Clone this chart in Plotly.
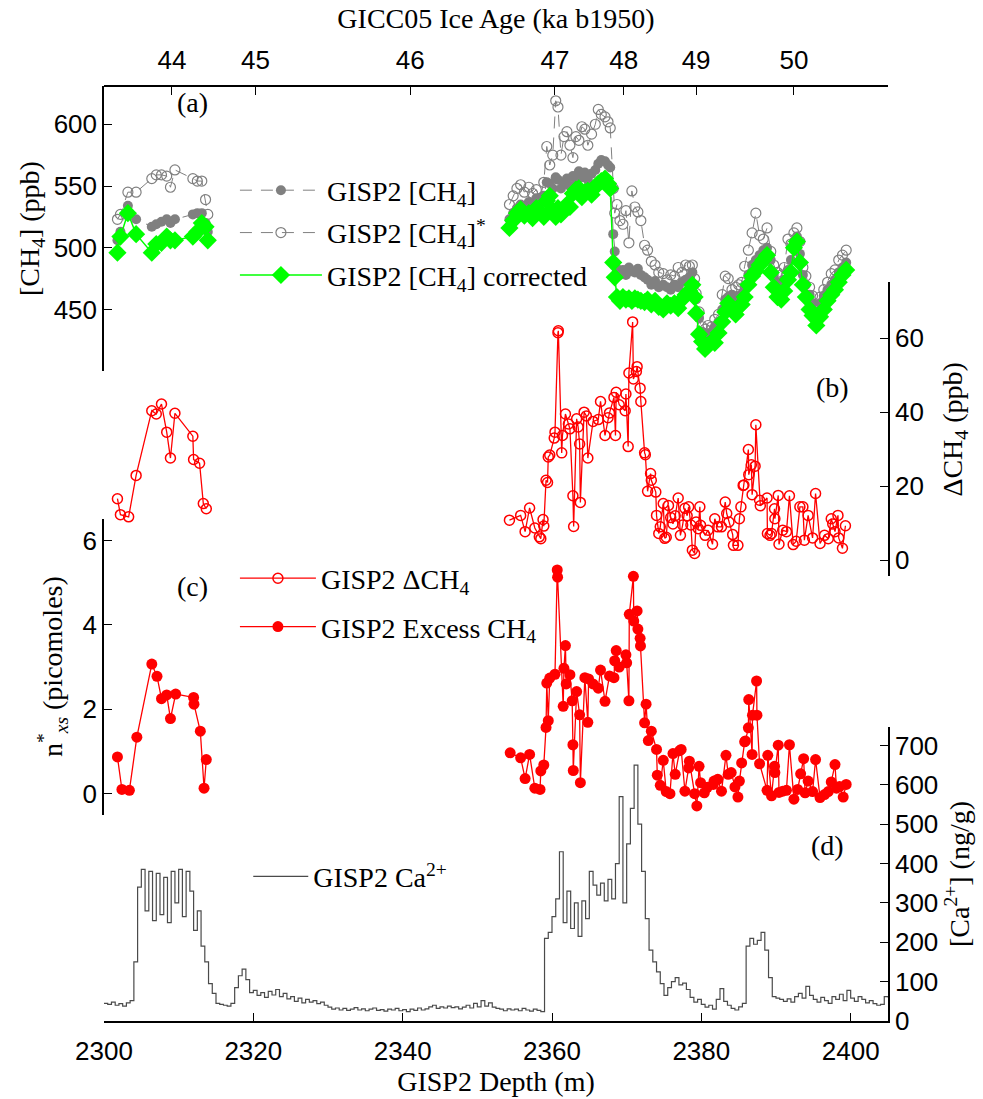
import numpy as np
import plotly.graph_objects as go

SERIF = "Liberation Serif"
SANS = "Liberation Sans"

# ---------------- Panel (a): [CH4] (ppb) ----------------
a_depth_left = [2301.8, 2302.2, 2303.2, 2304.3, 2306.4, 2307.0, 2307.7, 2308.4, 2308.9, 2309.5,
                2311.9, 2312.5, 2313.1, 2313.6, 2313.9]
ch4_left = [506, 513, 534, 523, 517, 519, 521, 523, 520, 523, 527, 528, 528, 520, 513]
ch4_star_left = [523, 527, 545, 545, 556, 559, 559, 558, 549, 563, 556, 554, 554, 539, 527]
ch4_corr_left = [496, 509, 528, 511, 496, 503, 504, 509, 506, 506, 509, 513, 520, 517, 506]

a_depth_right = [
    2354.3, 2354.8, 2355.3, 2355.8, 2356.3, 2356.9, 2357.4, 2357.9, 2358.4, 2358.9,
    2359.3, 2359.7, 2360.1, 2360.5, 2360.8, 2361.2, 2361.6, 2362.0, 2362.4, 2362.8,
    2363.2, 2363.6, 2364.0, 2364.4, 2364.8, 2365.3, 2365.8, 2366.2, 2366.6, 2367.1,
    2367.5, 2367.8, 2368.2, 2368.4, 2368.7, 2369.1, 2369.5, 2369.9, 2370.3, 2370.7,
    2371.1, 2371.5, 2371.9, 2372.4, 2372.8, 2373.3, 2373.8, 2374.3, 2374.9, 2375.4,
    2375.9, 2376.4, 2376.9, 2377.4, 2377.9, 2378.4, 2378.8, 2379.1, 2379.3, 2379.7,
    2380.1, 2380.5, 2380.9, 2381.4, 2381.8, 2382.3, 2382.8, 2383.2, 2383.6, 2384.1,
    2384.6, 2385.0, 2385.4, 2385.8, 2386.3, 2386.8, 2387.3, 2387.8, 2388.3, 2388.8,
    2389.3, 2389.7, 2390.2, 2390.7, 2391.1, 2391.6, 2392.0, 2392.4, 2392.8, 2393.2,
    2393.6, 2394.0, 2394.5, 2394.9, 2395.4, 2395.9, 2396.4, 2396.9, 2397.4, 2397.9,
    2398.4, 2398.9, 2399.4]
ch4_right = [
    523, 528, 532, 535, 533, 537, 535, 540, 536, 542,
    553, 552, 548, 557, 555, 548, 552, 556, 550, 558,
    556, 562, 557, 561, 555, 560, 563, 568, 571, 570,
    567, 565, 511, 497, 483, 478, 482, 478, 484, 481,
    480, 483, 478, 476, 474, 470, 473, 468, 470, 468,
    466, 470, 468, 472, 474, 476, 480, 470, 458, 443,
    432, 426, 430, 432, 436, 440, 450, 458, 460, 462,
    458, 460, 462, 466, 478, 486, 490, 494, 498, 500,
    490, 478, 472, 468, 474, 482, 490, 505, 509, 495,
    478, 470, 462, 455, 448, 455, 461, 466, 470, 474,
    480, 484, 488]
ch4_star_right = [
    535, 542, 548, 551, 545, 549, 544, 547, 540, 553,
    582, 567, 575, 619, 614, 575, 590, 594, 583, 573,
    590, 587, 598, 596, 583, 592, 600, 612, 608, 606,
    602, 597, 548, 528, 535, 522, 519, 530, 504, 546,
    533, 529, 522, 502, 498, 489, 486, 480, 479, 474,
    478, 477, 484, 480, 486, 485, 486, 475, 463, 448,
    436, 434, 437, 436, 442, 446, 462, 477, 475, 466,
    468, 470, 472, 485, 498, 512, 528, 510, 507, 516,
    497, 486, 480, 478, 484, 507, 503, 512, 516, 505,
    484, 477, 468, 461, 453, 460, 466, 472, 479, 482,
    490, 494, 498]
ch4_corr_right = [
    516, 522, 528, 531, 526, 528, 524, 532, 529, 525,
    538, 542, 530, 525, 532, 527, 531, 535, 533, 544,
    547, 548, 541, 545, 546, 543, 549, 552, 554, 556,
    552, 548, 488, 476, 460, 457, 460, 458, 459, 457,
    459, 458, 457, 456, 458, 454, 457, 452, 450, 455,
    453, 455, 451, 458, 462, 465, 470, 460, 447, 430,
    424, 418, 421, 424, 423, 431, 440, 448, 455, 450,
    446, 452, 454, 460, 470, 477, 481, 486, 490, 494,
    480, 468, 460, 458, 465, 474, 480, 500, 505, 488,
    470, 460, 450, 445, 437, 444, 450, 457, 462, 466,
    472, 478, 482]

# ---------------- Panel (b): Delta CH4 (ppb) ----------------
b_depth = [
    2301.8, 2302.2, 2303.3, 2304.3, 2306.4, 2307.0, 2307.7, 2308.4, 2308.9, 2309.5,
    2311.9, 2312.0, 2312.8, 2313.3, 2313.7,
    2334.0,
    2354.3, 2355.8, 2356.4, 2357.0, 2357.7, 2358.3, 2358.5, 2358.8, 2358.9, 2359.2,
    2359.4, 2359.5, 2359.7, 2360.3, 2360.4, 2360.8, 2360.85, 2361.3, 2361.4, 2361.8,
    2362.2, 2362.4, 2362.8, 2362.9, 2363.3, 2363.5, 2363.7, 2363.8, 2364.3, 2364.6,
    2364.8, 2365.5, 2366.2, 2366.5, 2367.1, 2367.5, 2367.7, 2368.3, 2368.5, 2368.6,
    2369.0, 2369.8, 2369.9, 2370.2, 2370.3, 2370.8, 2370.9, 2371.3, 2371.4, 2371.8,
    2371.9, 2372.4, 2372.5, 2372.8, 2373.2, 2373.3, 2373.9, 2374.0, 2374.3, 2374.5,
    2374.9, 2375.1, 2375.3, 2375.6, 2375.9, 2376.2, 2376.5, 2376.9, 2377.2, 2377.5,
    2377.8, 2378.1, 2378.3, 2378.6, 2378.8, 2379.1, 2379.3, 2379.6, 2379.8, 2379.9,
    2380.5, 2380.9, 2381.5, 2381.8, 2382.2, 2382.7, 2383.2, 2383.4, 2383.7, 2384.2,
    2384.3, 2384.9, 2385.1, 2385.3, 2385.6, 2385.7, 2386.3, 2386.35, 2386.7, 2386.8,
    2387.2, 2387.3, 2387.8, 2387.9, 2388.8, 2388.85, 2389.2, 2389.4, 2389.8, 2389.85,
    2390.3, 2390.4, 2390.9, 2391.4, 2391.8, 2392.3, 2392.7, 2393.2, 2393.6, 2393.8,
    2394.3, 2394.9, 2395.3, 2395.9, 2396.5, 2397.0, 2397.4, 2397.6, 2397.9, 2398.3,
    2398.4, 2398.9, 2399.3]
delta_ch4 = [
    16.6, 12.3, 11.7, 22.9, 40.4, 39.5, 42.2, 34.6, 27.6, 39.7,
    33.5, 27.2, 26.2, 15.3, 13.9,
    None,
    10.8, 12.1, 7.7, 14.1, 8.7, 6.3, 5.8, 11.0, 9.2, 21.6,
    21.0, 27.9, 28.4, 33.0, 34.6, 61.5, 62.0, 29.0, 33.7, 39.5,
    36.8, 35.5, 17.4, 9.1, 38.2, 36.0, 31.4, 15.6, 40.0, 39.0,
    27.6, 37.5, 38.0, 42.9, 33.7, 38.5, 39.8, 44.0, 33.7, 45.4,
    42.0, 40.4, 44.9, 30.7, 50.6, 64.4, 49.0, 51.0, 52.3, 46.5,
    42.9, 29.0, 28.5, 18.6, 23.4, 21.6, 18.4, 12.1, 7.2, 9.0,
    15.3, 5.9, 6.2, 14.8, 11.5, 9.8, 12.0, 16.8, 6.7, 9.5,
    14.0, 12.0, 14.4, 9.5, 2.7, 1.8, 10.3, 8.5, 14.4, 9.4,
    6.7, 8.1, 4.3, 11.2, 9.0, 9.0, 15.7, 12.6, 10.3, 6.9,
    4.0, 4.0, 11.2, 14.4, 20.2, 20.3, 29.9, 23.1, 25.8, 17.7,
    25.4, 36.6, 16.2, 14.7, 16.8, 7.2, 6.7, 7.2, 13.9, 11.2,
    17.5, 4.3, 8.1, 7.7, 17.4, 4.2, 5.1, 14.4, 14.4, 5.4,
    12.1, 6.0, 18.0, 4.5, 6.7, 5.8, 11.2, 9.8, 7.7, 12.1,
    6.0, 3.2, 9.3]

# ---------------- Panel (c): excess CH4 n*xs (picomoles) ----------------
c_depth = [
    2301.8, 2302.4, 2303.4, 2304.4, 2306.4, 2307.1, 2307.7, 2308.4, 2308.9, 2309.6,
    2312.0, 2312.05, 2312.9, 2313.4, 2313.7,
    2334.0,
    2354.4, 2355.8, 2356.4, 2357.0, 2357.7, 2358.4, 2358.5, 2358.9, 2359.2, 2359.3,
    2359.5, 2359.7, 2360.4, 2360.7, 2360.75, 2361.5, 2361.6, 2361.8, 2361.9, 2362.4,
    2362.7, 2362.8, 2362.85, 2363.3, 2363.7, 2363.8, 2364.4, 2364.8, 2364.9, 2365.5,
    2366.2, 2366.5, 2367.1, 2367.7, 2368.3, 2368.4, 2368.6, 2369.0, 2369.9, 2370.0,
    2370.3, 2370.35, 2370.9, 2370.95, 2371.4, 2371.5, 2371.8, 2371.85, 2372.4, 2372.6,
    2372.9, 2373.3, 2374.0, 2374.1, 2374.5, 2374.9, 2375.3, 2375.8, 2376.2, 2376.5,
    2377.1, 2377.3, 2377.8, 2378.3, 2378.4, 2379.1, 2379.4, 2379.7, 2379.9, 2380.4,
    2380.8, 2381.6, 2381.7, 2382.2, 2382.7, 2383.3, 2383.6, 2384.0, 2384.5, 2384.9,
    2385.1, 2385.4, 2385.8, 2385.9, 2386.3, 2386.35, 2386.8, 2386.85, 2387.4, 2387.45,
    2387.8, 2388.8, 2388.9, 2389.4, 2389.8, 2389.85, 2390.3, 2390.4, 2390.9, 2391.4,
    2391.8, 2392.4, 2392.9, 2393.3, 2393.7, 2393.9, 2394.3, 2394.9, 2395.3, 2395.9,
    2396.5, 2397.0, 2397.4, 2397.9, 2398.1, 2398.5, 2399.0, 2399.4]
n_xs = [
    0.87, 0.10, 0.08, 1.34, 3.07, 2.78, 2.25, 2.34, 1.78, 2.36,
    2.28, 2.12, 1.48, 0.13, 0.81,
    None,
    0.97, 0.85, 0.36, 0.93, 0.13, 0.10, 0.54, 0.68, 1.57, 2.62,
    1.73, 2.74, 2.83, 5.30, 5.13, 2.07, 2.97, 3.51, 2.60, 2.82,
    2.20, 1.16, 0.55, 2.42, 1.87, 0.26, 2.75, 1.69, 2.72, 2.60,
    2.50, 2.93, 2.19, 2.79, 2.75, 3.15, 3.39, 3.00, 3.29, 3.10,
    2.20, 4.25, 5.15, 4.09, 4.33, 3.90, 3.68, 3.50, 1.68, 2.12,
    1.26, 1.48, 1.05, 0.44, 0.20, 0.79, 0.05, 0.00, 0.95, 0.46,
    1.02, 1.05, 0.06, 0.61, 0.77, 0.00, -0.29, 0.65, 0.26, 0.02,
    0.15, 0.22, 0.30, 0.34, 0.06, 0.91, 0.46, 0.50, 0.16, -0.08,
    0.30, 0.73, 1.23, 1.25, 1.56, 2.23, 0.93, 1.86, 2.67, 1.86,
    0.71, 0.08, 0.91, -0.05, 0.65, 0.50, 1.15, 0.03, 0.06, 0.08,
    1.16, -0.13, 0.10, 0.47, 0.83, 0.02, 0.30, 0.05, 0.81, -0.09,
    -0.02, 0.05, 0.28, 0.69, 0.13, 0.17, -0.08, 0.22]

# ---------------- Panel (d): [Ca2+] (ng/g), 0.5 m samples from 2300 m ----------------
ca_start, ca_step = 2300.0, 0.5
ca_values = [
    45, 42, 48, 40, 44, 38, 46, 52, 150, 340,        # 2300-2304.5
    385, 280, 380, 255, 375, 270, 365, 250, 380, 300,  # 2305-2309.5
    385, 265, 380, 330, 230, 280, 190, 150, 95, 70,    # 2310-2314.5
    45, 42, 40, 38, 45, 85, 115, 132, 105, 72,         # 2315-2319.5
    78, 65, 72, 60, 75, 66, 80, 62, 70, 56,            # 2320-2324.5
    62, 50, 58, 46, 55, 48, 52, 44, 48, 40,            # 2325-2329.5
    35, 30, 33, 28, 32, 27, 30, 34, 28, 31,            # 2330-2334.5
    26, 30, 33, 27, 29, 25, 30, 28, 32, 26,            # 2335-2339.5
    29, 24, 30, 27, 33, 28, 31, 36, 40, 32,            # 2340-2344.5
    36, 33, 38, 34, 36, 31, 35, 40, 33, 45,            # 2345-2349.5
    36, 52, 38, 46, 35, 32, 30, 26, 31, 28,            # 2350-2354.5
    30, 26, 32, 28, 25, 30, 27, 24, 210, 225,          # 2355-2359.5
    265, 310, 430, 250, 330, 235, 300, 215, 305, 260,  # 2360-2364.5
    380, 345, 320, 350, 305, 360, 310, 400, 570, 300,  # 2365-2369.5
    450, 540, 650, 500, 380, 260, 180, 150, 125, 95,   # 2370-2374.5
    65, 85, 100, 110, 92, 96, 80, 60, 48, 55,          # 2375-2379.5
    42, 35, 40, 30, 55, 82, 50, 40, 32, 28,            # 2380-2384.5
    36, 45, 190, 210, 195, 205, 225, 180, 110, 62,     # 2385-2389.5
    58, 55, 50, 56, 48, 62, 70, 58, 88, 65,            # 2390-2394.5
    55, 48, 60, 52, 45, 62, 55, 68, 52, 78,            # 2395-2399.5
    58, 50, 62, 55, 46, 52, 44, 40, 42, 62,            # 2400-2404.5
    60]                                                # 2405
ca_depth = [ca_start + i * ca_step for i in range(len(ca_values))]

# ---------------- Axis ticks ----------------
depth_ticks = [2300, 2320, 2340, 2360, 2380, 2400]
age_ticks = [44, 45, 46, 47, 48, 49, 50]
age_tick_depths = [2309.1, 2320.3, 2341.0, 2360.4, 2369.6, 2379.3, 2392.4]
ch4_ticks = [450, 500, 550, 600]
dch4_ticks = [0, 20, 40, 60]
nxs_ticks = [0, 2, 4, 6]
ca_ticks = [0, 100, 200, 300, 400, 500, 600, 700]

a_depth = a_depth_left + [2334.0] + a_depth_right
ch4 = ch4_left + [None] + ch4_right
ch4_star = ch4_star_left + [None] + ch4_star_right
ch4_corr = ch4_corr_left + [None] + ch4_corr_right

GRAY = "#808080"
GREEN = "#00ff00"
RED = "#ff0000"
CACOL = "#4a4a4a"
GRAYDASH = "12px,9px"

fig = go.Figure()

fig.add_trace(go.Scatter(
    x=a_depth, y=ch4, mode="lines+markers", name="GISP2 [CH<sub>4</sub>]",
    line=dict(color=GRAY, width=1, dash=GRAYDASH),
    marker=dict(symbol="circle", size=10, color=GRAY),
    xaxis="x", yaxis="y", legend="legend", legendgroup="a1"))
fig.add_trace(go.Scatter(
    x=a_depth, y=ch4_star, mode="lines+markers", name="GISP2 [CH<sub>4</sub>]<sup>*</sup>",
    line=dict(color=GRAY, width=1, dash=GRAYDASH),
    marker=dict(symbol="circle-open", size=10, color=GRAY, line=dict(width=1.2)),
    xaxis="x", yaxis="y", legend="legend", legendgroup="a2"))
fig.add_trace(go.Scatter(
    x=a_depth, y=ch4_corr, mode="lines+markers", name="GISP2 [CH<sub>4</sub>] corrected",
    line=dict(color=GREEN, width=1.5),
    marker=dict(symbol="diamond", size=14, color=GREEN),
    xaxis="x", yaxis="y", legend="legend", legendgroup="a3"))

fig.add_trace(go.Scatter(
    x=b_depth, y=delta_ch4, mode="lines+markers", name="GISP2 ΔCH<sub>4</sub>",
    line=dict(color=RED, width=1.3),
    marker=dict(symbol="circle-open", size=10, color=RED, line=dict(width=1.5)),
    xaxis="x", yaxis="y2", legend="legend2", legendgroup="b1"))
fig.add_trace(go.Scatter(
    x=c_depth, y=n_xs, mode="lines+markers", name="GISP2 Excess CH<sub>4</sub>",
    line=dict(color=RED, width=1.3),
    marker=dict(symbol="circle", size=11, color=RED),
    xaxis="x", yaxis="y3", legend="legend2", legendgroup="c1"))

fig.add_trace(go.Scatter(
    x=ca_depth, y=ca_values, mode="lines", name="GISP2 Ca<sup>2+</sup>",
    line=dict(color=CACOL, width=1.2, shape="hv"),
    xaxis="x", yaxis="y4", legend="legend3", legendgroup="d1"))

# carrier for the top (age) axis
fig.add_trace(go.Scatter(x=[2300, 2405], y=[None, None], mode="lines", showlegend=False,
                         hoverinfo="skip", xaxis="x2", yaxis="y"))

tickfont = dict(family=SANS, size=26, color="black")
titlefont = dict(family=SERIF, size=28, color="black")
common = dict(showline=True, linecolor="black", linewidth=1.5, ticks="inside", ticklen=8,
              tickwidth=1.2, tickcolor="black", showgrid=False, zeroline=False,
              tickfont=tickfont)

fig.update_layout(
    width=983, height=1099,
    margin=dict(l=104, r=95, t=86, b=75),
    plot_bgcolor="rgba(0,0,0,0)", paper_bgcolor="white",
    xaxis=dict(range=[2300, 2405], domain=[0, 1], anchor="y4", side="bottom",
               tickvals=depth_ticks, ticklabelstandoff=6,
               title=dict(text="GISP2 Depth (m)", font=titlefont, standoff=1),
               **common),
    xaxis2=dict(range=[2300, 2405], overlaying="x", side="top", anchor="free", position=1,
                tickvals=age_tick_depths, ticktext=[str(a) for a in age_ticks], ticklabelstandoff=6,
                title=dict(text="GICC05 Ice Age (ka b1950)", font=titlefont, standoff=7),
                **common),
    yaxis=dict(domain=[0.695, 1.0], range=[400, 631], anchor="x", side="left",
               tickvals=ch4_ticks, title=dict(text="[CH<sub>4</sub>] (ppb)", font=titlefont, standoff=6),
               **common),
    yaxis2=dict(domain=[0.4755, 0.790], range=[-4.4, 75.1], anchor="x", side="right",
                tickvals=dch4_ticks, title=dict(text="ΔCH<sub>4</sub> (ppb)", font=titlefont, standoff=20),
                **common),
    yaxis3=dict(domain=[0.2207, 0.5373], range=[-0.496, 6.517], anchor="x", side="left",
                tickvals=nxs_ticks,
                title=dict(text="n<sup>*</sup><sub><i>xs</i></sub> (picomoles)", font=titlefont, standoff=12),
                **common),
    yaxis4=dict(domain=[0, 0.3145], range=[0, 747], anchor="x", side="right",
                tickvals=ca_ticks, title=dict(text="[Ca<sup>2+</sup>] (ng/g)", font=titlefont, standoff=12),
                **common),
    legend=dict(x=0.167, y=0.915, xanchor="left", yanchor="top", bgcolor="rgba(0,0,0,0)",
                font=dict(family=SERIF, size=28, color="black"), itemwidth=82, tracegroupgap=3,
                itemsizing="trace"),
    legend2=dict(x=0.167, y=0.500, xanchor="left", yanchor="top", bgcolor="rgba(0,0,0,0)",
                 font=dict(family=SERIF, size=28, color="black"), itemwidth=76, tracegroupgap=9,
                 itemsizing="trace"),
    legend3=dict(x=0.184, y=0.181, xanchor="left", yanchor="top", bgcolor="rgba(0,0,0,0)",
                 font=dict(family=SERIF, size=28, color="black"), itemwidth=55),
    annotations=[
        dict(text="(a)", x=0.1135, y=0.982, xref="paper", yref="paper", showarrow=False,
             xanchor="center", yanchor="middle", font=titlefont),
        dict(text="(b)", x=0.929, y=0.678, xref="paper", yref="paper", showarrow=False,
             xanchor="center", yanchor="middle", font=titlefont),
        dict(text="(c)", x=0.1135, y=0.4648, xref="paper", yref="paper", showarrow=False,
             xanchor="center", yanchor="middle", font=titlefont),
        dict(text="(d)", x=0.923, y=0.1876, xref="paper", yref="paper", showarrow=False,
             xanchor="center", yanchor="middle", font=titlefont),
    ],
)

fig.write_html("out.html")
